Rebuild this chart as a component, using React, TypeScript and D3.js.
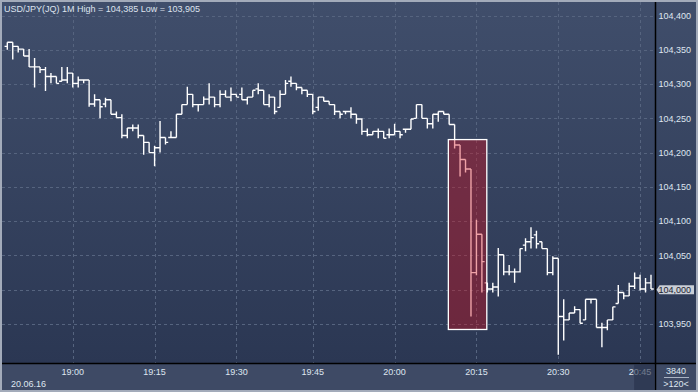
import React from "react";
import * as d3 from "d3";

const W = 698;
const H = 392;

const title = "USD/JPY(JQ) 1M High = 104,385 Low = 103,905";
const dateLabel = "20.06.16";
const barCountLabel = "3840";
const visibleLabel = ">120<";

const opens = [
  104.355, 104.361, 104.355, 104.351, 104.341, 104.325, 104.325, 104.321, 104.311, 104.311,
  104.304, 104.306, 104.316, 104.301, 104.306, 104.306, 104.271, 104.277, 104.271, 104.277,
  104.256, 104.251, 104.225, 104.236, 104.236, 104.225, 104.215, 104.200, 104.207, 104.222,
  104.222, 104.222, 104.256, 104.270, 104.285, 104.270, 104.270, 104.278, 104.281, 104.270,
  104.285, 104.281, 104.285, 104.285, 104.277, 104.281, 104.293, 104.291, 104.270, 104.281,
  104.266, 104.285, 104.304, 104.301, 104.295, 104.291, 104.285, 104.266, 104.281, 104.275,
  104.270, 104.260, 104.260, 104.260, 104.256, 104.249, 104.231, 104.226, 104.231, 104.231,
  104.226, 104.226, 104.231, 104.234, 104.234, 104.250, 104.270, 104.250, 104.242, 104.256,
  104.260, 104.256, 104.241, 104.211, 104.190, 104.176, 104.025, 104.081, 104.010, 104.001,
  104.004, 104.051, 104.026, 104.026, 104.026, 104.065, 104.070, 104.080, 104.070, 104.060,
  104.025, 104.046, 103.961, 103.956, 103.966, 103.971, 103.956, 103.986, 103.986, 103.945,
  103.945, 103.956, 103.980, 103.996, 103.991, 104.005, 104.017, 104.001, 104.010,
];
const highs = [
  104.361, 104.361, 104.355, 104.351, 104.351, 104.338, 104.325, 104.325, 104.316, 104.311,
  104.325, 104.325, 104.316, 104.311, 104.306, 104.306, 104.285, 104.277, 104.280, 104.277,
  104.260, 104.256, 104.236, 104.241, 104.241, 104.225, 104.215, 104.210, 104.246, 104.222,
  104.231, 104.256, 104.270, 104.296, 104.285, 104.270, 104.282, 104.301, 104.281, 104.291,
  104.291, 104.295, 104.285, 104.295, 104.281, 104.291, 104.301, 104.291, 104.285, 104.281,
  104.291, 104.306, 104.311, 104.301, 104.295, 104.291, 104.285, 104.281, 104.281, 104.275,
  104.270, 104.260, 104.260, 104.266, 104.256, 104.250, 104.235, 104.231, 104.235, 104.231,
  104.235, 104.242, 104.231, 104.234, 104.249, 104.270, 104.270, 104.250, 104.256, 104.260,
  104.260, 104.256, 104.241, 104.211, 104.190, 104.176, 104.102, 104.081, 104.010, 104.010,
  104.061, 104.051, 104.036, 104.031, 104.060, 104.075, 104.091, 104.086, 104.070, 104.060,
  104.049, 104.046, 103.986, 103.966, 103.976, 103.971, 103.986, 103.986, 103.986, 103.952,
  103.956, 103.975, 104.007, 103.996, 104.010, 104.025, 104.022, 104.017, 104.022,
];
const lows = [
  104.350, 104.336, 104.346, 104.341, 104.325, 104.295, 104.316, 104.290, 104.301, 104.301,
  104.304, 104.301, 104.295, 104.295, 104.301, 104.267, 104.267, 104.250, 104.266, 104.256,
  104.251, 104.221, 104.221, 104.231, 104.221, 104.197, 104.200, 104.180, 104.200, 104.212,
  104.221, 104.222, 104.256, 104.270, 104.266, 104.260, 104.270, 104.270, 104.266, 104.266,
  104.281, 104.275, 104.281, 104.277, 104.270, 104.281, 104.285, 104.270, 104.266, 104.256,
  104.266, 104.285, 104.296, 104.291, 104.285, 104.281, 104.256, 104.261, 104.275, 104.270,
  104.255, 104.250, 104.256, 104.250, 104.242, 104.226, 104.224, 104.226, 104.221, 104.221,
  104.221, 104.226, 104.221, 104.229, 104.234, 104.250, 104.250, 104.235, 104.235, 104.245,
  104.256, 104.241, 104.206, 104.165, 104.171, 103.961, 104.021, 103.996, 103.996, 103.996,
  103.990, 104.021, 104.021, 104.010, 104.025, 104.056, 104.060, 104.060, 104.060, 104.021,
  104.021, 103.905, 103.926, 103.956, 103.966, 103.951, 103.956, 103.980, 103.945, 103.916,
  103.941, 103.956, 103.980, 103.986, 103.991, 104.001, 103.999, 103.996, 104.001,
];
const closes = [
  104.361, 104.355, 104.351, 104.341, 104.325, 104.325, 104.321, 104.311, 104.311, 104.301,
  104.306, 104.316, 104.301, 104.306, 104.306, 104.271, 104.277, 104.267, 104.277, 104.256,
  104.251, 104.225, 104.236, 104.236, 104.225, 104.215, 104.200, 104.207, 104.222, 104.215,
  104.222, 104.256, 104.270, 104.285, 104.270, 104.270, 104.278, 104.281, 104.270, 104.285,
  104.281, 104.285, 104.281, 104.277, 104.281, 104.291, 104.291, 104.270, 104.281, 104.260,
  104.285, 104.301, 104.301, 104.295, 104.291, 104.285, 104.260, 104.281, 104.275, 104.270,
  104.260, 104.256, 104.260, 104.256, 104.249, 104.231, 104.226, 104.231, 104.231, 104.221,
  104.226, 104.231, 104.226, 104.234, 104.249, 104.270, 104.250, 104.242, 104.256, 104.260,
  104.256, 104.241, 104.211, 104.190, 104.176, 104.025, 104.081, 104.041, 104.001, 104.004,
  104.051, 104.026, 104.026, 104.026, 104.060, 104.070, 104.076, 104.067, 104.060, 104.025,
  104.046, 103.961, 103.956, 103.966, 103.971, 103.951, 103.986, 103.986, 103.945, 103.945,
  103.956, 103.975, 103.996, 103.991, 104.005, 104.017, 104.001, 104.010, 104.001,
];

const priceTicks = [104.4, 104.35, 104.3, 104.25, 104.2, 104.15, 104.1, 104.05, 104.0, 103.95];
const timeTickIndex = [12, 27, 42, 56, 71, 86, 101, 116];
const timeTickLabels = ["19:00", "19:15", "19:30", "19:45", "20:00", "20:15", "20:30", "20:45"];

// highlighted zone (bar-index span and price span)
const zoneIndex = [80.85, 87.9];
const zonePrice = [104.219, 103.942];
const lastPrice = 104.0;

const FONT = "'Liberation Sans', Arial, sans-serif";

export default function App() {
  const axisX = 655.5;
  const axisY = 363.5;
  const n = opens.length;
  const x = d3.scaleLinear().domain([0, n - 1]).range([7.3, 651]);
  const y = d3.scaleLinear().domain([103.95, 104.4]).range([324, 15.5]);
  const fmt = d3
    .formatLocale({ decimal: ",", thousands: ".", grouping: [3], currency: ["", ""] })
    .format(".3f");
  const half = (x(1) - x(0)) / 2;

  const barPath = d3.range(n)
    .map((i) => {
      const cx = x(i);
      return (
        `M${cx},${y(highs[i])}V${y(lows[i])}` +
        `M${cx - half},${y(opens[i])}H${cx}` +
        `M${cx},${y(closes[i])}H${cx + half}`
      );
    })
    .join("");

  const zx0 = x(zoneIndex[0]);
  const zx1 = x(zoneIndex[1]);
  const zy0 = y(zonePrice[0]);
  const zy1 = y(zonePrice[1]);
  const ly = y(lastPrice);
  const lastTickX = x(timeTickIndex[timeTickIndex.length - 1]);

  return (
    <svg width={W} height={H} style={{ position: "absolute", left: 0, top: 0 }}>
      <defs>
        <linearGradient id="bg" x1="0" y1="0" x2="0" y2="1">
          <stop offset="0" stopColor="#404e6b" />
          <stop offset="1" stopColor="#2b3753" />
        </linearGradient>
      </defs>
      <rect x={0} y={0} width={W} height={axisY} fill="url(#bg)" />
      <rect x={0} y={axisY} width={W} height={H - axisY} fill="#3e4a65" />

      {/* grid */}
      <g stroke="#56647f" strokeWidth={1} strokeDasharray="3,3">
        {priceTicks.map((p) => (
          <line key={p} x1={2} x2={axisX} y1={Math.round(y(p)) + 0.5} y2={Math.round(y(p)) + 0.5} />
        ))}
        {timeTickIndex.map((t) => (
          <line key={t} x1={Math.round(x(t)) + 0.5} x2={Math.round(x(t)) + 0.5} y1={2} y2={axisY} />
        ))}
      </g>

      {/* bars */}
      <path d={barPath} stroke="#ffffff" strokeWidth={1.4} fill="none" />

      {/* highlighted zone */}
      <rect
        x={zx0}
        y={zy0}
        width={zx1 - zx0}
        height={zy1 - zy0}
        fill="rgba(214,10,24,0.38)"
        stroke="#ffffff"
        strokeWidth={1.3}
      />

      {/* title */}
      <text x={4} y={11.5} fontFamily={FONT} fontSize={9} fill="#dde3ee">
        {title}
      </text>

      {/* axes lines */}
      <line x1={axisX} x2={axisX} y1={0} y2={H} stroke="#000" strokeWidth={1.5} />
      <line x1={0} x2={W} y1={axisY} y2={axisY} stroke="#000" strokeWidth={1.5} />

      {/* price labels */}
      {priceTicks.map((p) =>
        p === lastPrice ? null : (
          <text key={p} x={658.5} y={y(p) + 3.3} fontFamily={FONT} fontSize={9} fill="#dfe6f0">
            {fmt(p)}
          </text>
        )
      )}
      <path
        d={`M${axisX + 1},${ly} L${axisX + 4},${ly - 4.5} H${W - 4} V${ly + 4.5} H${axisX + 4} Z`}
        fill="#c9ced6"
      />
      <text x={658.5} y={ly + 3.3} fontFamily={FONT} fontSize={9} fill="#1a2130">
        {fmt(lastPrice)}
      </text>

      {/* time labels */}
      {timeTickIndex.map((t, k) => (
        <text
          key={t}
          x={x(t)}
          y={375}
          textAnchor="middle"
          fontFamily={FONT}
          fontSize={9}
          fill="#dfe6f0"
        >
          {timeTickLabels[k]}
        </text>
      ))}
      <text x={11} y={386.5} fontFamily={FONT} fontSize={9} fill="#dfe6f0">
        {dateLabel}
      </text>
      <rect
        x={lastTickX - 6}
        y={axisY + 1}
        width={axisX - 1 - (lastTickX - 6)}
        height={H - axisY - 3}
        fill="#26314a"
        opacity={0.6}
      />

      {/* bottom-right info */}
      <text x={676} y={374} textAnchor="middle" fontFamily={FONT} fontSize={9} fill="#dfe6f0">
        {barCountLabel}
      </text>
      <line x1={664} x2={689} y1={377.5} y2={377.5} stroke="#aab3c3" strokeWidth={1} />
      <text x={676} y={387} textAnchor="middle" fontFamily={FONT} fontSize={9} fill="#dfe6f0">
        {visibleLabel}
      </text>

      {/* frame */}
      <rect x={1} y={1} width={W - 2} height={H - 2} fill="none" stroke="#a3abba" strokeWidth={2} />
    </svg>
  );
}
